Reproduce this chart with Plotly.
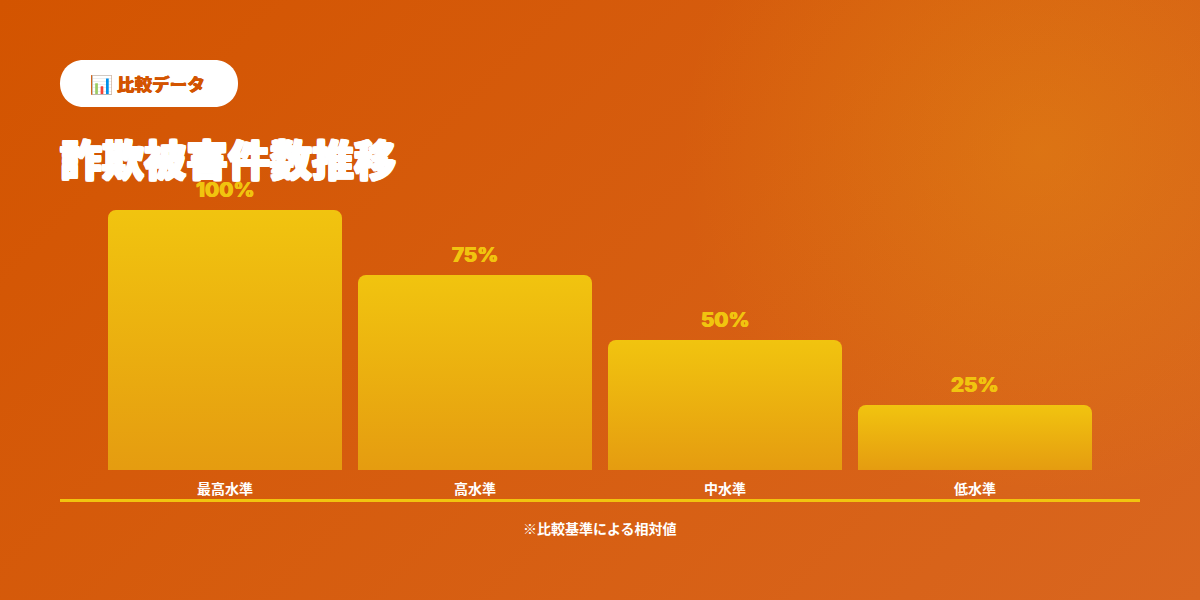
import plotly.graph_objects as go
from urllib.parse import quote

categories = ["最高水準", "高水準", "中水準", "低水準"]
values = [100, 75, 50, 25]

badge_text = "📊 比較データ"
title_text = "詐欺被害件数推移"
note_text = "※比較基準による相対値"

orange = "#d35400"
yellow = "#f1c40f"
jp_font = "Noto Sans CJK JP, Noto Color Emoji, sans-serif"

# page background, same gradients the slide uses
bg_svg = """<svg xmlns='http://www.w3.org/2000/svg' width='1200' height='600'>
<defs>
<linearGradient id='a' gradientUnits='userSpaceOnUse' x1='150' y1='-150' x2='1050' y2='750'>
<stop offset='0' stop-color='#d35400'/><stop offset='1' stop-color='#d9661f'/>
</linearGradient>
<radialGradient id='b' gradientUnits='userSpaceOnUse' cx='1040' cy='150' r='360'>
<stop offset='0' stop-color='#f1c40f' stop-opacity='0.2'/><stop offset='1' stop-color='#f1c40f' stop-opacity='0'/>
</radialGradient>
</defs>
<rect width='1200' height='600' fill='url(#a)'/>
<rect width='1200' height='600' fill='url(#b)'/>
</svg>"""

fig = go.Figure(go.Bar(
    x=categories,
    y=values,
    width=0.936,
    marker=dict(color=yellow, cornerradius=8, line=dict(width=0)),
    hoverinfo="skip",
))

fig.update_layout(
    width=1200, height=600, autosize=False,
    margin=dict(l=100, r=100, t=150, b=130),
    paper_bgcolor="rgba(0,0,0,0)", plot_bgcolor="rgba(0,0,0,0)",
    showlegend=False,
    font=dict(family=jp_font, color="white"),
    images=[dict(source="data:image/svg+xml," + quote(bg_svg), xref="paper", yref="paper",
                 x=-100 / 1000, y=1 + 150 / 320, sizex=1.2, sizey=600 / 320,
                 xanchor="left", yanchor="top", sizing="stretch", layer="below")],
)
fig.update_xaxes(range=[-0.5, 3.5], showgrid=False, zeroline=False, showline=False, ticks="",
                 tickfont=dict(family=jp_font, size=14, color="white", weight=700), ticklabelstandoff=9)
fig.update_yaxes(range=[0, 123.08], visible=False)

# value labels above the bars
for cat, val in zip(categories, values):
    fig.add_annotation(x=cat, y=val, text=f"{val}%", showarrow=False, yanchor="middle", yshift=21,
                       font=dict(family="Inter, sans-serif", size=20.5, color=yellow, weight=800,
                                 shadow="0.5px 0 #f1c40f, -0.5px 0 #f1c40f"))

# paper coordinates from pixels
px = lambda x: (x - 100) / 1000
py = lambda y: (470 - y) / 320

# white pill behind the badge
r = 23.5
x0, x1, y0, y1 = 60, 238, 60, 107
pill = (f"M {px(x0 + r)} {py(y0)} L {px(x1 - r)} {py(y0)} "
        f"C {px(x1 - 10)} {py(y0)} {px(x1)} {py(y0 + 10)} {px(x1)} {py(y0 + r)} "
        f"C {px(x1)} {py(y1 - 10)} {px(x1 - 10)} {py(y1)} {px(x1 - r)} {py(y1)} "
        f"L {px(x0 + r)} {py(y1)} "
        f"C {px(x0 + 10)} {py(y1)} {px(x0)} {py(y1 - 10)} {px(x0)} {py(y0 + r)} "
        f"C {px(x0)} {py(y0 + 10)} {px(x0 + 10)} {py(y0)} {px(x0 + r)} {py(y0)} Z")
fig.add_shape(type="path", path=pill, xref="paper", yref="paper", fillcolor="white", line_width=0)
fig.add_shape(type="line", xref="paper", yref="paper", x0=px(60), x1=px(1140), y0=py(500.5), y1=py(500.5),
              line=dict(color=yellow, width=3))

fig.add_annotation(text=badge_text, xref="paper", yref="paper", x=px(148), y=py(83.5), showarrow=False,
                   xanchor="center", yanchor="middle",
                   font=dict(family=jp_font, size=17.6, color=orange, weight=900,
                             shadow="0.4px 0 #d35400, -0.4px 0 #d35400"))
fig.add_annotation(text=title_text, xref="paper", yref="paper", x=px(58), y=py(157.5), xanchor="left",
                   yanchor="middle", showarrow=False,
                   font=dict(family=jp_font, size=42, color="white", weight=900,
                             shadow="1px 0 #fff, -1px 0 #fff, 0 1px #fff, 0 -1px #fff, "
                                    "1px 1px #fff, -1px -1px #fff, 1px -1px #fff, -1px 1px #fff"))
fig.add_annotation(text=note_text, xref="paper", yref="paper", x=px(600), y=py(528), showarrow=False,
                   xanchor="center", yanchor="middle",
                   font=dict(family=jp_font, size=14, color="white", weight=700))

# plotly has no gradient bars, so swap the fill once drawn
post = """
document.body.style.margin = '0';
document.body.style.overflow = 'hidden';
var gd = document.getElementById('{plot_id}');
var svg = gd.querySelector('svg.main-svg');
var ns = 'http://www.w3.org/2000/svg';
var grad = document.createElementNS(ns, 'linearGradient');
grad.setAttribute('id', 'barfill');
grad.setAttribute('x1', '0'); grad.setAttribute('y1', '0');
grad.setAttribute('x2', '0'); grad.setAttribute('y2', '1');
[['0', '#f1c40f'], ['1', '#e59c10']].forEach(function (s) {
    var st = document.createElementNS(ns, 'stop');
    st.setAttribute('offset', s[0]); st.setAttribute('stop-color', s[1]);
    grad.appendChild(st);
});
var defs = document.createElementNS(ns, 'defs');
defs.appendChild(grad);
svg.insertBefore(defs, svg.firstChild);
gd.querySelectorAll('.bars .point path').forEach(function (p) {
    p.style.fill = 'url(#barfill)';
});
"""

fig.write_html("out.html", post_script=post, config=dict(displayModeBar=False))
